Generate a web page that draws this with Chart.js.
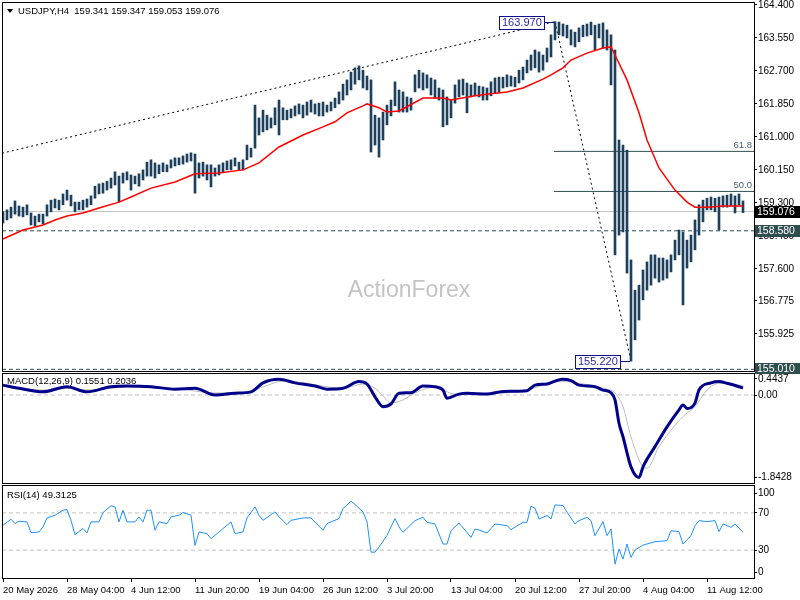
<!DOCTYPE html>
<html lang="en">
<head>
<meta charset="UTF-8" />
<title>USDJPY,H4</title>
<style>
  body {
    margin: 0;
    background: #fff;
    width: 800px;
    height: 600px;
    overflow: hidden;
    position: relative;
    font-family: 'Liberation Sans', Arial, sans-serif;
  }
  canvas { position: absolute; left: 0; }
  #priceChart { top: 0; }
  #macdChart { top: 372px; }
  #rsiChart { top: 484px; }
  .caption {
    position: absolute;
    font-size: 9.5px;
    line-height: 12px;
    color: #000;
    white-space: pre;
    z-index: 2;
  }
  .arrow {
    position: absolute;
    left: 7px;
    top: 9px;
    width: 0;
    height: 0;
    border-left: 3px solid transparent;
    border-right: 3px solid transparent;
    border-top: 4px solid #000;
    z-index: 2;
  }
</style>
</head>
<body>
  <div class="arrow"></div>
  <div class="caption" style="left:18px; top:5px;">USDJPY,H4  159.341 159.347 159.053 159.076</div>
  <div class="caption" style="left:7px; top:375px;">MACD(12,26,9) 0.1551 0.2036</div>
  <div class="caption" style="left:7px; top:489px;">RSI(14) 49.3125</div>

  <canvas id="priceChart" width="800" height="374"></canvas>
  <canvas id="macdChart" width="800" height="112"></canvas>
  <canvas id="rsiChart" width="800" height="116"></canvas>

  <script src="https://cdn.jsdelivr.net/npm/chart.js"></script>
  <script>
    // bar index 0..185 (one bar per 8h), time labels every 16 bars
    const timeBars = [0, 16, 32, 48, 64, 80, 96, 112, 128, 144, 160, 176];
    const timeLabels = ['20 May 2026', '28 May 04:00', '4 Jun 12:00', '11 Jun 20:00', '19 Jun 04:00', '26 Jun 12:00',
      '3 Jul 20:00', '13 Jul 04:00', '20 Jul 12:00', '27 Jul 20:00', '4 Aug 04:00', '11 Aug 12:00'];

    const barHigh = [
      159.07,159.12,159.19,159.35,159.22,159.19,159.25,159.04,158.96,159.01,
      159.01,159.25,159.37,159.40,159.37,159.53,159.63,159.50,159.32,159.32,
      159.37,159.40,159.48,159.73,159.79,159.81,159.86,159.94,160.10,159.99,
      160.07,160.10,160.02,159.99,160.05,160.15,160.35,160.41,160.33,160.28,
      160.33,160.28,160.41,160.46,160.46,160.51,160.56,160.59,160.56,160.33,
      160.35,160.28,160.28,160.20,160.28,160.33,160.38,160.41,160.46,160.35,
      160.41,160.79,160.71,161.82,161.49,161.69,161.56,161.49,161.75,161.95,
      161.75,161.69,161.72,161.80,161.85,161.82,161.90,161.95,161.85,161.87,
      161.90,161.82,161.90,162.00,162.16,162.36,162.47,162.67,162.78,162.83,
      162.72,162.57,162.47,161.56,161.49,161.64,161.82,161.95,162.42,162.21,
      162.16,162.03,162.00,162.60,162.72,162.65,162.60,162.52,162.47,162.26,
      162.21,162.03,161.95,162.34,162.47,162.49,162.39,162.34,162.39,162.31,
      162.29,162.26,162.42,162.52,162.54,162.54,162.60,162.57,162.54,162.72,
      162.80,162.98,163.11,163.24,163.19,163.11,163.29,163.63,163.97,163.96,
      163.91,163.88,163.76,163.70,163.81,163.88,163.91,163.96,163.88,163.91,
      163.94,163.76,163.63,163.24,160.92,160.79,160.66,157.83,157.05,157.18,
      157.57,157.78,157.96,157.96,157.88,157.88,157.83,157.96,158.34,158.60,
      158.55,158.34,158.47,158.86,159.25,159.37,159.42,159.45,159.42,159.45,
      159.48,159.50,159.53,159.48,159.53,159.35
    ];
    const barLow = [
      158.78,158.86,158.91,159.01,158.96,158.94,158.99,158.73,158.71,158.81,
      158.76,158.96,159.07,159.17,159.12,159.25,159.37,159.22,159.07,159.12,
      159.12,159.19,159.25,159.42,159.53,159.55,159.63,159.68,159.76,159.32,
      159.81,159.89,159.63,159.79,159.73,159.89,159.99,159.99,159.94,160.05,
      160.10,160.10,160.20,160.25,160.28,160.30,160.35,160.38,159.55,159.94,
      159.99,159.89,159.71,159.99,160.02,160.10,160.15,160.15,160.25,160.15,
      160.15,160.41,160.48,160.71,161.05,161.13,161.18,161.23,161.31,161.05,
      161.44,161.44,161.49,161.54,161.59,161.49,161.56,161.64,161.59,161.54,
      161.54,161.64,161.67,161.75,161.85,161.95,162.08,162.21,162.36,162.47,
      162.26,162.21,160.61,160.79,160.48,160.92,161.31,161.54,161.80,161.64,
      161.64,161.64,161.69,162.16,162.26,162.21,162.26,162.08,162.00,161.95,
      161.26,161.31,161.49,161.87,162.03,162.08,161.62,162.03,162.06,162.03,
      161.95,161.95,162.06,162.13,162.16,162.26,162.29,162.31,162.29,162.39,
      162.47,162.65,162.72,162.78,162.67,162.72,162.93,163.06,163.50,163.63,
      163.60,163.55,163.37,163.32,163.45,163.58,163.60,163.63,163.24,163.55,
      163.29,163.24,162.34,157.96,158.47,158.55,157.49,155.22,155.77,156.28,
      156.80,157.05,157.18,157.36,157.26,157.31,157.36,157.52,157.83,157.96,
      156.67,157.62,157.78,158.09,158.47,158.81,159.12,159.12,159.07,158.60,
      159.19,159.19,159.22,159.04,159.25,159.05
    ];

    const maBars = [0,5,10,13,16,20,24,29,32,37,43,48,54,60,64,69,75,80,83,86,
      90,91,94,96,99,105,110,112,118,122,126,130,135,137,140,142,146,150,152,153,
      156,159,161,164,168,171,173,176,180,185];
    const maValues = [158.37,158.60,158.73,158.86,158.96,159.04,159.17,159.32,159.45,159.68,
      159.84,160.05,160.07,160.15,160.33,160.74,161.05,161.26,161.39,161.62,
      161.80,161.85,161.75,161.64,161.67,162.00,162.00,161.95,162.06,162.11,
      162.16,162.26,162.49,162.60,162.78,162.98,163.16,163.29,163.32,163.11,
      162.47,161.62,160.92,160.20,159.63,159.32,159.19,159.19,159.22,159.22];

    const priceTicks = [164.400, 163.550, 162.700, 161.850, 161.000, 160.150, 159.300, 158.450, 157.600, 156.775, 155.925];
    const priceMin = 154.967, priceMax = 164.477;
    const levelValues = [159.076, 158.580, 155.010];   // last price, support, low of range
    const fibStartBar = 137.75;
    const fibLevels = [160.627, 159.595];
    const fibLabels = ['61.8', '50.0'];
    const trendBars = [-0.25, 138];
    const trendValues = [160.58, 163.97];
    const pivotBars = [138, 157];
    const pivotValues = [163.970, 155.220];

    const macdBars = [0,4,10,16,21,27,31,37,43,48,53,58,62,65,69,73,78,81,85,89,
      91,93,95,97,99,102,105,108,110,111,114,116,121,125,131,133,136,138,140,142,
      144,148,150,152,153,154,155,157,159,160,163,166,169,170,171,173,174,177,179,181,
      184,185];
    const macdValues = [0.22,0.15,0.07,0.185,0.07,0.185,0.20,0.185,0.13,0.15,
      0.00,0.04,0.07,0.27,0.35,0.27,0.20,0.13,0.15,0.30,
      0.245,-0.04,-0.26,-0.20,0.04,0.05,0.20,0.185,0.11,-0.07,
      0.02,0.04,0.02,0.08,0.096,0.22,0.245,0.31,0.35,0.32,
      0.22,0.185,0.11,0.05,-0.11,-0.63,-0.93,-1.60,-1.84,-1.60,
      -1.15,-0.71,-0.33,-0.22,-0.30,-0.18,0.11,0.27,0.30,0.26,
      0.185,0.1551];
    const signalBars = [0,10,16,22,31,43,53,60,65,70,75,85,90,93,95,97,100,103,108,110,
      113,118,128,131,135,140,144,151,153,155,157,160,161,164,170,173,176,179,184,185];
    const signalValues = [0.20,0.11,0.15,0.11,0.18,0.15,0.045,0.045,0.18,0.31,
      0.27,0.15,0.245,0.15,-0.02,-0.18,-0.11,0.045,0.18,0.11,
      0.02,0.02,0.066,0.11,0.22,0.30,0.26,0.13,0.045,-0.26,
      -0.93,-1.60,-1.63,-1.15,-0.48,-0.26,0.11,0.26,0.22,0.2036];
    const macdMin = -1.96, macdMax = 0.49;
    const macdLabelLevels = [0.36, 0, -1.8428];
    const macdLabelText = ['0.4437', '0.00', '-1.8428'];

    const rsiBars = [0,2,3,4,6,7,9,10,11,13,15,16,17,18,20,21,22,24,25,27,
      28,29,30,31,33,34,35,36,37,38,39,41,42,44,45,47,48,49,51,52,
      55,57,58,60,61,63,64,65,68,69,71,72,75,77,80,81,84,85,87,88,
      90,91,92,93,94,96,98,99,100,103,105,106,108,109,110,111,112,114,117,118,
      119,121,123,126,127,130,131,132,133,134,136,137,138,140,141,143,144,146,147,148,
      150,151,152,153,154,155,156,157,158,160,163,166,167,169,170,172,173,174,176,178,
      179,180,182,183,185];
    const rsiValues = [56.7,63.2,58.5,61,60.3,48.7,49.5,54.9,64.6,67.5,
      72.9,73.6,62,46.6,53.1,48.4,60.3,60.3,70.4,77.6,
      76.5,60.3,72.9,60.3,60.3,65.7,60.3,72.9,72.9,51.3,
      60.3,58.5,65.7,67.5,70.4,67.5,35,49.5,47.7,42.3,
      53.1,60.3,47.7,49.5,64.6,76.5,67.5,62,71.1,65.7,
      57.4,62,64.6,64.6,51.3,58.5,63.9,74.7,82.6,79,
      71.1,60.3,27.8,27.8,33.2,45.9,63.9,55,49.1,61.7,
      65.3,59.9,58.1,47.3,36.5,36.5,50.9,59.2,43.7,52.7,
      51.6,48.4,58.1,56.3,52,59.9,59.9,77.2,75,63.5,
      67.1,63.5,78.6,77.9,70.7,58.1,61.7,65.3,61.7,45.5,
      60.6,45.5,52.7,14.9,31.1,20.3,36.5,22.1,30,35.4,
      39,40.1,50.9,49.8,36.5,45.5,56.3,61.7,60.6,61.7,
      49.8,58.1,54.5,58.1,49.3];
    const rsiLevels = [70, 30];
    const rsiLabelLevels = [91, 70, 30, 6];
    const rsiLabelText = ['100', '70', '30', '0'];

    const family = "'Liberation Sans', Arial, sans-serif";
    const xMin = -0.25, xMax = 187.75;

    function pts(xs, ys) {
      return xs.map((x, i) => ({ x: x, y: ys[i] }));
    }
    function hline(v, from) {
      return [{ x: from === undefined ? xMin : from, y: v }, { x: xMax, y: v }];
    }

    function xScale(show) {
      return {
        type: 'linear',
        min: xMin,
        max: xMax,
        offset: false,
        display: show,
        grid: { drawOnChartArea: false, drawTicks: true, tickLength: 4, color: '#000' },
        border: { display: false },
        afterBuildTicks: s => { s.ticks = timeBars.map(v => ({ value: v })); },
        afterFit: s => {
          s.height = show ? 22 : 0;
          s.paddingLeft = 0;
          s.paddingRight = 0;
        },
        ticks: {
          autoSkip: false,
          maxRotation: 0,
          align: 'start',
          padding: 3,
          color: '#000',
          font: { family: family, size: 9.5 },
          callback: v => timeLabels[timeBars.indexOf(v)]
        }
      };
    }

    function yScale(min, max, tickVals, fmt) {
      return {
        position: 'right',
        min: min,
        max: max,
        grid: { drawOnChartArea: false, drawTicks: true, tickLength: 3, color: '#000' },
        border: { display: false },
        afterBuildTicks: s => { s.ticks = tickVals.map(v => ({ value: v })); },
        afterFit: s => {
          s.width = 46;
          s.paddingTop = 0;
          s.paddingBottom = 0;
        },
        ticks: {
          autoSkip: false,
          padding: 1,
          color: '#000',
          font: { family: family, size: 10 },
          callback: fmt
        }
      };
    }

    const frame = {
      id: 'frame',
      afterDraw(chart) {
        const a = chart.chartArea, c = chart.ctx;
        c.save();
        c.strokeStyle = '#000';
        c.lineWidth = 1;
        c.strokeRect(a.left + 0.5, a.top + 0.5, a.right - a.left, a.bottom - a.top);
        c.restore();
      }
    };

    const priceExtras = {
      id: 'priceExtras',
      beforeDatasetsDraw(chart) {
        const c = chart.ctx;
        c.save();
        c.fillStyle = '#c4c4c4';
        c.font = '23px ' + family;
        c.textAlign = 'center';
        c.textBaseline = 'middle';
        c.fillText('ActionForex', 409, 291);
        c.restore();
      },
      afterDatasetsDraw(chart) {
        const c = chart.ctx, xs = chart.scales.x, ys = chart.scales.y, a = chart.chartArea;
        c.save();
        // fib captions
        c.font = '9.5px ' + family;
        c.fillStyle = '#4c5f6e';
        c.textAlign = 'right';
        c.textBaseline = 'bottom';
        fibLevels.forEach((v, i) => c.fillText(fibLabels[i], a.right - 2, ys.getPixelForValue(v) - 1));

        // swing high / low tags
        c.font = '11px ' + family;
        c.textBaseline = 'middle';
        c.textAlign = 'left';
        pivotBars.forEach((b, i) => {
          const px = xs.getPixelForValue(b);
          const py = Math.round(ys.getPixelForValue(pivotValues[i]));
          const txt = pivotValues[i].toFixed(3);
          const w = Math.ceil(c.measureText(txt).width) + 5;
          const right = Math.round(px) - 11;
          c.fillStyle = '#fff';
          c.fillRect(right - w, py - 6, w, 13);
          c.strokeStyle = '#10108a';
          c.lineWidth = 1;
          c.strokeRect(right - w + 0.5, py - 6 + 0.5, w, 13);
          c.beginPath();
          c.moveTo(right, py + 0.5);
          c.lineTo(px - 1, py + 0.5);
          c.stroke();
          c.fillStyle = '#2a2aa8';
          c.fillText(txt, right - w + 3, py + 1);
        });
        c.restore();
      },
      afterDraw(chart) {
        const c = chart.ctx, ys = chart.scales.y, a = chart.chartArea;
        const fills = ['#000000', '#2f4f4f', '#2f4f4f'];
        c.save();
        c.font = '10.5px ' + family;
        c.textBaseline = 'middle';
        c.textAlign = 'left';
        levelValues.forEach((v, i) => {
          const py = Math.round(ys.getPixelForValue(v));
          c.fillStyle = fills[i];
          c.fillRect(a.right + 1, py - 6, 45, 12);
          c.fillStyle = '#fff';
          c.fillText(v.toFixed(3), a.right + 3, py + 0.5);
        });
        c.restore();
      }
    };

    const baseOptions = {
      responsive: false,
      animation: false,
      events: [],
      plugins: { legend: { display: false }, tooltip: { enabled: false } }
    };

    // price panel
    new Chart(document.getElementById('priceChart'), {
      type: 'bar',
      data: {
        datasets: [
          { type: 'line', data: pts(maBars, maValues), borderColor: '#ff0000', borderWidth: 1.5, pointRadius: 0, order: 0 },
          {
            type: 'bar',
            data: barHigh.map((h, i) => ({ x: i, y: [barLow[i], h] })),
            backgroundColor: '#1c405e',
            borderWidth: 0,
            barThickness: 2,
            grouped: false,
            order: 1
          },
          { type: 'line', data: hline(levelValues[0]), borderColor: '#c0c0c0', borderWidth: 1, pointRadius: 0, order: 3 },
          { type: 'line', data: hline(levelValues[1]), borderColor: '#2f4f4f', borderWidth: 1, borderDash: [4, 3], pointRadius: 0, order: 3 },
          { type: 'line', data: hline(levelValues[2]), borderColor: '#2f4f4f', borderWidth: 1, borderDash: [4, 3], pointRadius: 0, order: 3 },
          { type: 'line', data: hline(fibLevels[0], fibStartBar), borderColor: '#2f4f4f', borderWidth: 1, pointRadius: 0, order: 3 },
          { type: 'line', data: hline(fibLevels[1], fibStartBar), borderColor: '#2f4f4f', borderWidth: 1, pointRadius: 0, order: 3 },
          { type: 'line', data: pts(trendBars, trendValues), borderColor: '#000', borderWidth: 1, borderDash: [2, 3], pointRadius: 0, order: 2 },
          { type: 'line', data: pts(pivotBars, pivotValues), borderColor: '#000', borderWidth: 1, borderDash: [2, 3], pointRadius: 0, order: 2 }
        ]
      },
      options: Object.assign({}, baseOptions, {
        layout: { padding: { top: 2, bottom: 3, left: 2, right: 0 } },
        scales: {
          x: xScale(false),
          y: yScale(priceMin, priceMax, priceTicks, v => v.toFixed(3))
        }
      }),
      plugins: [priceExtras, frame]
    });

    // MACD panel
    new Chart(document.getElementById('macdChart'), {
      type: 'line',
      data: {
        datasets: [
          { data: pts(macdBars, macdValues), borderColor: '#00008b', borderWidth: 3, pointRadius: 0, cubicInterpolationMode: 'monotone', order: 0 },
          { data: pts(signalBars, signalValues), borderColor: '#bdbdbd', borderWidth: 1, pointRadius: 0, cubicInterpolationMode: 'monotone', order: 1 },
          { data: hline(0), borderColor: '#c0c0c0', borderWidth: 1, borderDash: [4, 3], pointRadius: 0, order: 2 }
        ]
      },
      options: Object.assign({}, baseOptions, {
        layout: { padding: { top: 1, bottom: 1, left: 2, right: 0 } },
        scales: {
          x: xScale(false),
          y: yScale(macdMin, macdMax, macdLabelLevels, v => macdLabelText[macdLabelLevels.indexOf(v)])
        }
      }),
      plugins: [frame]
    });

    // RSI panel
    new Chart(document.getElementById('rsiChart'), {
      type: 'line',
      data: {
        datasets: [
          { data: pts(rsiBars, rsiValues), borderColor: '#1e90ff', borderWidth: 1, pointRadius: 0, order: 0 },
          { data: hline(rsiLevels[0]), borderColor: '#c0c0c0', borderWidth: 1, borderDash: [4, 3], pointRadius: 0, order: 1 },
          { data: hline(rsiLevels[1]), borderColor: '#c0c0c0', borderWidth: 1, borderDash: [4, 3], pointRadius: 0, order: 1 }
        ]
      },
      options: Object.assign({}, baseOptions, {
        layout: { padding: { top: 1, bottom: 0, left: 2, right: 0 } },
        scales: {
          x: xScale(true),
          y: yScale(0, 100, rsiLabelLevels, v => rsiLabelText[rsiLabelLevels.indexOf(v)])
        }
      }),
      plugins: [frame]
    });
  </script>
</body>
</html>
